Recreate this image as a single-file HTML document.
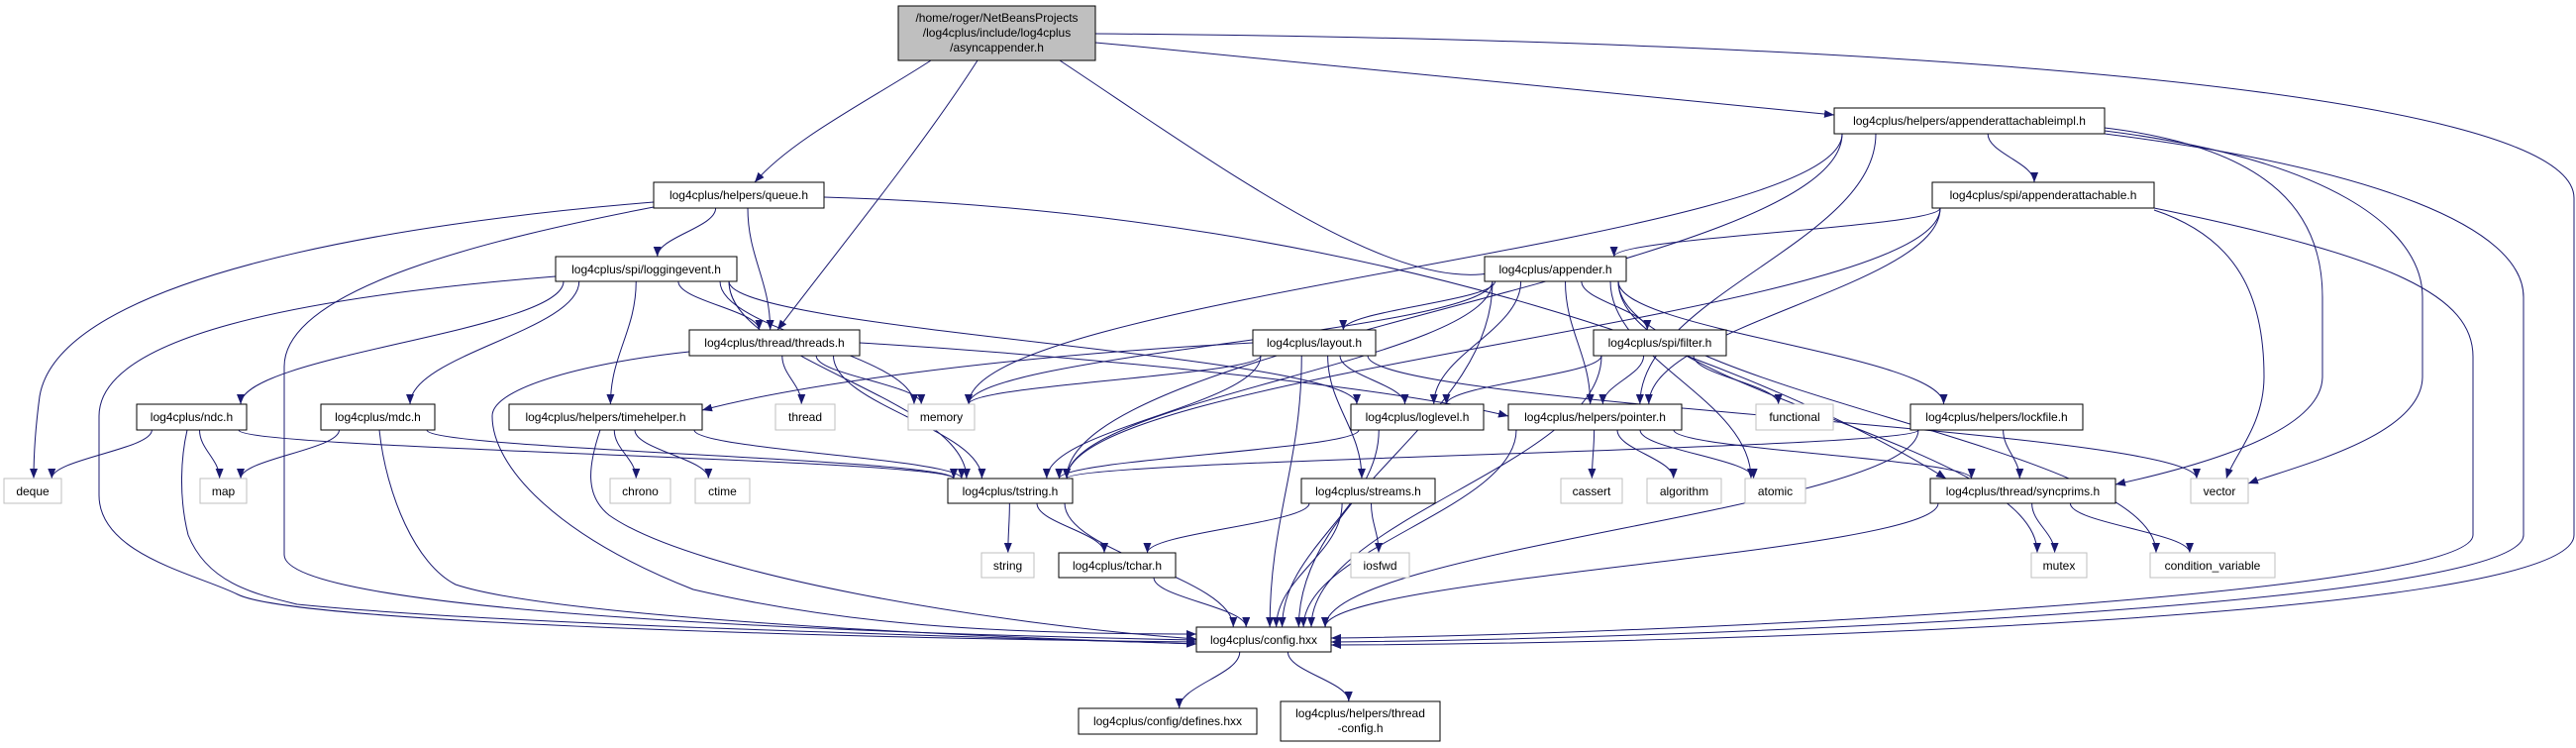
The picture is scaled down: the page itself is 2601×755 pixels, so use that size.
<!DOCTYPE html>
<html><head><meta charset="utf-8"><style>
html,body{margin:0;padding:0;background:#fff;}
svg{display:block;}
text{font-family:"Liberation Sans",Arial,sans-serif;font-size:12px;fill:#000;}
</style></head><body>
<svg id="g" width="2601" height="755" viewBox="0 0 2601 755" xmlns="http://www.w3.org/2000/svg">
<defs><marker id="ah" markerUnits="userSpaceOnUse" markerWidth="11" markerHeight="8" refX="10" refY="4" orient="auto"><path d="M0,0 L10,4 L0,8 z" fill="#191970"/></marker></defs>
<g id="edges" fill="none" stroke="#191970" stroke-width="1"></g>
<g id="nodes" stroke-width="1">
<rect x="907" y="6" width="199" height="55" fill="#bfbfbf" stroke="#000"/>
<text x="1006.5" y="22" text-anchor="middle">/home/roger/NetBeansProjects</text>
<text x="1006.5" y="37" text-anchor="middle">/log4cplus/include/log4cplus</text>
<text x="1006.5" y="52" text-anchor="middle">/asyncappender.h</text>
<rect x="1293" y="708" width="161" height="40" fill="#fff" stroke="#000"/>
<text x="1373.5" y="724" text-anchor="middle">log4cplus/helpers/thread</text>
<text x="1373.5" y="739" text-anchor="middle">-config.h</text>
</g>
<g>
<text x="1988.5" y="126" text-anchor="middle">log4cplus/helpers/appenderattachableimpl.h</text>
<text x="746" y="201" text-anchor="middle">log4cplus/helpers/queue.h</text>
<text x="2063" y="201" text-anchor="middle">log4cplus/spi/appenderattachable.h</text>
<text x="652.5" y="276" text-anchor="middle">log4cplus/spi/loggingevent.h</text>
<text x="1570.5" y="276" text-anchor="middle">log4cplus/appender.h</text>
<text x="782" y="350" text-anchor="middle">log4cplus/thread/threads.h</text>
<text x="1327" y="350" text-anchor="middle">log4cplus/layout.h</text>
<text x="1676" y="350" text-anchor="middle">log4cplus/spi/filter.h</text>
<text x="193.5" y="425" text-anchor="middle">log4cplus/ndc.h</text>
<text x="381.5" y="425" text-anchor="middle">log4cplus/mdc.h</text>
<text x="611.5" y="425" text-anchor="middle">log4cplus/helpers/timehelper.h</text>
<text x="813" y="425" text-anchor="middle">thread</text>
<text x="950.5" y="425" text-anchor="middle">memory</text>
<text x="1431" y="425" text-anchor="middle">log4cplus/loglevel.h</text>
<text x="1610.5" y="425" text-anchor="middle">log4cplus/helpers/pointer.h</text>
<text x="1812" y="425" text-anchor="middle">functional</text>
<text x="2016" y="425" text-anchor="middle">log4cplus/helpers/lockfile.h</text>
<text x="33" y="500" text-anchor="middle">deque</text>
<text x="225.5" y="500" text-anchor="middle">map</text>
<text x="646.5" y="500" text-anchor="middle">chrono</text>
<text x="729.5" y="500" text-anchor="middle">ctime</text>
<text x="1020" y="500" text-anchor="middle">log4cplus/tstring.h</text>
<text x="1381.5" y="500" text-anchor="middle">log4cplus/streams.h</text>
<text x="1607" y="500" text-anchor="middle">cassert</text>
<text x="1700.5" y="500" text-anchor="middle">algorithm</text>
<text x="1792.5" y="500" text-anchor="middle">atomic</text>
<text x="2042.5" y="500" text-anchor="middle">log4cplus/thread/syncprims.h</text>
<text x="2241" y="500" text-anchor="middle">vector</text>
<text x="1017.5" y="575" text-anchor="middle">string</text>
<text x="1128" y="575" text-anchor="middle">log4cplus/tchar.h</text>
<text x="1393.5" y="575" text-anchor="middle">iosfwd</text>
<text x="2079" y="575" text-anchor="middle">mutex</text>
<text x="2234" y="575" text-anchor="middle">condition_variable</text>
<text x="1276" y="650" text-anchor="middle">log4cplus/config.hxx</text>
<text x="1179" y="732" text-anchor="middle">log4cplus/config/defines.hxx</text>
</g>
</svg>
<script>
var N={
impl:[1852,109,2125,135,0],queue:[660,184,832,210,0],attach:[1951,184,2175,210,0],
logev:[561,259,744,284,0],appender:[1499,259,1642,284,0],threads:[696,333,868,359,0],
layout:[1265,333,1389,359,0],filter:[1609,333,1743,359,0],ndc:[138,408,249,434,0],
mdc:[324,408,439,434,0],timehelper:[514,408,709,434,0],thread:[783,408,843,434,1],
memory:[917,408,984,434,1],loglevel:[1364,408,1498,434,0],pointer:[1523,408,1698,434,0],
functional:[1773,408,1851,434,1],lockfile:[1929,408,2103,434,0],deque:[4,483,62,508,1],
map:[202,483,249,508,1],chrono:[616,483,677,508,1],ctime:[702,483,757,508,1],
tstring:[957,483,1083,508,0],streams:[1314,483,1449,508,0],cassert:[1576,483,1638,508,1],
algorithm:[1663,483,1738,508,1],atomic:[1762,483,1823,508,1],syncprims:[1949,483,2136,508,0],
vector:[2212,483,2270,508,1],string:[991,558,1044,583,1],tchar:[1069,558,1187,583,0],
iosfwd:[1364,558,1423,583,1],mutex:[2051,558,2107,583,1],condvar:[2171,558,2297,583,1],
config:[1208,633,1344,658,0],defines:[1089,715,1269,741,0],tconfig:[1293,708,1454,748,0],
root:[907,6,1106,61,0]};
var E=[
["impl","memory"],["impl","tstring"],["impl","pointer"],["impl","attach"],
["queue","logev"],["queue","threads"],
["attach","appender"],["attach","tstring"],["attach","pointer"],
["logev","ndc"],["logev","mdc"],["logev","timehelper"],["logev","tstring"],["logev","threads"],["logev","memory"],["logev","loglevel"],
["threads","tstring"],["threads","memory"],["threads","thread"],
["appender","layout"],["appender","filter"],["appender","pointer"],["appender","loglevel"],["appender","tstring"],["appender","memory"],["appender","config"],["appender","lockfile"],["appender","atomic"],["appender","mutex"],["appender","condvar"],
["filter","loglevel"],["filter","pointer"],["filter","functional"],["filter","config"],
["layout","loglevel"],["layout","streams"],["layout","tstring"],["layout","memory"],["layout","config"],["layout","vector"],
["ndc","deque"],["ndc","map"],["ndc","tstring"],["mdc","map"],["mdc","tstring"],
["timehelper","chrono"],["timehelper","ctime"],["timehelper","tstring"],
["loglevel","config"],["loglevel","tstring"],
["pointer","config"],["pointer","cassert"],["pointer","algorithm"],["pointer","atomic"],["pointer","syncprims"],
["lockfile","config"],["lockfile","syncprims"],["lockfile","tstring"],
["tstring","config"],["tstring","string"],["tstring","tchar"],
["streams","config"],["streams","tchar"],["streams","iosfwd"],["tchar","config"],
["syncprims","config"],["syncprims","mutex"],["syncprims","condvar"],
["config","defines"],["config","tconfig"]];
var C=[
"M940,61 C880,100 800,140 762,184",
"M987,61 C930,150 840,260 785,333",
"M1070,61 C1250,180 1450,330 1545,259",
"M1106,43 C1400,70 1700,100 1852,116",
"M1106,34 C1900,40 2599,90 2599,200 L2599,540 C2599,625 1700,650 1344,651",
"M2125,135 C2400,170 2548,230 2548,300 L2548,540 C2548,612 1700,645 1344,648",
"M2175,210 C2420,260 2497,300 2497,360 L2497,540 C2497,600 1700,640 1344,644",
"M2125,132 C2350,160 2446,230 2446,300 L2446,380 C2446,440 2320,470 2270,488",
"M2125,129 C2300,150 2345,220 2345,300 L2345,380 C2345,440 2200,475 2136,489",
"M2175,212 C2260,240 2286,300 2286,380 C2286,430 2255,460 2248,483",
"M660,204 C400,225 60,280 40,400 C36,430 34,460 34,483",
"M660,209 C500,240 287,290 287,370 L287,560 C287,620 900,640 1208,646",
"M561,279 C300,300 100,340 100,420 L100,500 C100,560 200,580 240,600 C300,630 900,645 1208,648",
"M832,199 C1400,215 1800,380 1965,483",
"M868,346 C1100,360 1400,390 1523,420",
"M1265,346 C1000,360 800,390 709,414",
"M189,434 C183,460 180,500 190,540 C210,590 260,600 300,610 C500,630 900,640 1208,650",
"M383,434 C390,500 420,570 460,590 C550,620 900,640 1208,650",
"M606,434 C594,470 590,500 615,520 C700,580 1000,630 1208,645",
"M696,355 C600,365 497,390 497,420 C497,470 560,540 700,595 C850,630 1000,640 1208,640"];
var g=document.getElementById('edges'),ns='http://www.w3.org/2000/svg';
function P(d){var p=document.createElementNS(ns,'path');p.setAttribute('d',d);p.setAttribute('marker-end','url(#ah)');g.appendChild(p);}
function cl(v,a,b){return Math.max(a,Math.min(b,v));}
E.forEach(function(e){var s=N[e[0]],t=N[e[1]];
var scx=(s[0]+s[2])/2,tcx=(t[0]+t[2])/2;
var sx=cl(scx+(tcx-scx)*0.25,s[0]+8,s[2]-8),tx=cl(tcx+(scx-tcx)*0.12,t[0]+6,t[2]-6);
var sy=s[3],ty=t[1],dy=ty-sy;
P("M"+sx+","+sy+" C"+sx+","+(sy+dy*0.4)+" "+tx+","+(ty-dy*0.4)+" "+tx+","+ty);});
C.forEach(P);
var ng=document.getElementById('nodes');
for(var k in N){if(k=='root'||k=='tconfig')continue;var n=N[k];var r=document.createElementNS(ns,'rect');
r.setAttribute('x',n[0]);r.setAttribute('y',n[1]);r.setAttribute('width',n[2]-n[0]);r.setAttribute('height',n[3]-n[1]);
r.setAttribute('fill','#fff');r.setAttribute('stroke',n[4]?'#bfbfbf':'#000');ng.appendChild(r);}
</script>
</body></html>
